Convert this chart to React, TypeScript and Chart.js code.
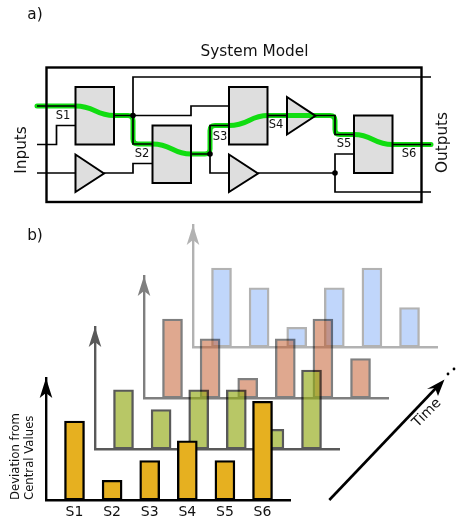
import React, { useEffect, useRef } from "react";
import { Chart, registerables } from "chart.js";

Chart.register(...registerables);

const categories = ["S1", "S2", "S3", "S4", "S5", "S6"];
const currentDeviation = [4, 1, 2, 3, 2, 5];
const earlierDeviation = [3, 2, 3, 3, 1, 4];
const olderDeviation = [4, 3, 1, 3, 4, 2];
const oldestDeviation = [4, 3, 1, 3, 4, 2];

const FONT = '"DejaVu Sans"';
const UNIT_MAX = 6.18;
const X_MIN = -0.758;
const X_MAX = 5.731;

type Pt = [number, number];

function poly(ctx: CanvasRenderingContext2D, pts: Pt[], close = false) {
  ctx.beginPath();
  pts.forEach((p, i) => (i ? ctx.lineTo(p[0], p[1]) : ctx.moveTo(p[0], p[1])));
  if (close) ctx.closePath();
}

function drawSchematic(ctx: CanvasRenderingContext2D) {
  ctx.save();
  ctx.lineJoin = "miter";
  ctx.strokeStyle = "#000";
  ctx.fillStyle = "#dedede";
  const blocks = [
    [75.5, 87, 38.5, 57.5],
    [152.5, 125.5, 38.5, 57.5],
    [229, 87, 38.5, 57.5],
    [354, 115.5, 38.5, 57.5],
  ];
  const tris: Pt[][] = [
    [[75.5, 154.5], [75.5, 192], [104, 173.5]],
    [[229, 154.5], [229, 192], [258, 173.5]],
    [[287, 97], [287, 134.5], [315.5, 115.8]],
  ];
  blocks.forEach((b) => {
    ctx.fillRect(b[0], b[1], b[2], b[3]);
  });
  tris.forEach((t) => {
    poly(ctx, t, true);
    ctx.fill();
  });
  // green path
  ctx.strokeStyle = "#11dd11";
  ctx.lineWidth = 5;
  ctx.lineCap = "round";
  ctx.lineJoin = "round";
  ctx.beginPath();
  ctx.moveTo(37, 106);
  ctx.lineTo(75.5, 106);
  ctx.bezierCurveTo(95, 106, 95, 115.5, 114, 115.5);
  ctx.lineTo(128, 115.5);
  ctx.quadraticCurveTo(133, 115.5, 133, 120.5);
  ctx.lineTo(133, 139);
  ctx.quadraticCurveTo(133, 144, 138, 144);
  ctx.lineTo(152.5, 144);
  ctx.bezierCurveTo(172, 144, 172, 154, 191, 154);
  ctx.lineTo(205, 154);
  ctx.quadraticCurveTo(210, 154, 210, 149);
  ctx.lineTo(210, 130.5);
  ctx.quadraticCurveTo(210, 125.5, 215, 125.5);
  ctx.lineTo(229, 125.5);
  ctx.bezierCurveTo(249, 125.5, 249, 115.5, 268, 115.5);
  ctx.lineTo(330, 115.5);
  ctx.quadraticCurveTo(335, 115.5, 335, 120.5);
  ctx.lineTo(335, 129.5);
  ctx.quadraticCurveTo(335, 134.5, 340, 134.5);
  ctx.lineTo(354, 134.5);
  ctx.bezierCurveTo(373, 134.5, 373, 144.5, 392.5, 144.5);
  ctx.lineTo(431, 144.5);
  ctx.stroke();
  // wires
  ctx.strokeStyle = "#000";
  ctx.lineWidth = 1.7;
  ctx.lineCap = "butt";
  ctx.lineJoin = "miter";
  const wires: Pt[][] = [
    [[37, 106], [75.5, 106]],
    [[37, 144.5], [56.5, 144.5], [56.5, 125.5], [75.5, 125.5]],
    [[37, 173], [75.5, 173]],
    [[104, 173], [133, 173], [133, 163.5], [152.5, 163.5]],
    [[114, 115.5], [191, 115.5], [191, 106], [229, 106]],
    [[133, 115.5], [133, 77], [431, 77]],
    [[133, 115.5], [133, 144], [152.5, 144]],
    [[191, 154], [210, 154], [210, 125.5], [229, 125.5]],
    [[210, 154], [210, 173], [229, 173]],
    [[258, 173], [335, 173]],
    [[335, 173], [335, 154], [354, 154]],
    [[335, 173], [335, 192], [431, 192]],
    [[268, 115.5], [287, 115.5]],
    [[315.5, 115.5], [335, 115.5], [335, 134.5], [354, 134.5]],
    [[392.5, 144.5], [431, 144.5]],
  ];
  wires.forEach((w) => {
    poly(ctx, w);
    ctx.stroke();
  });
  ctx.lineWidth = 2;
  blocks.forEach((b) => ctx.strokeRect(b[0], b[1], b[2], b[3]));
  tris.forEach((t) => {
    poly(ctx, t, true);
    ctx.stroke();
  });
  ctx.fillStyle = "#000";
  ([[133, 115.5], [210, 154], [335, 173]] as Pt[]).forEach((d) => {
    ctx.beginPath();
    ctx.arc(d[0], d[1], 2.8, 0, Math.PI * 2);
    ctx.fill();
  });
  // frame
  ctx.lineWidth = 2.4;
  ctx.strokeRect(46.5, 67.5, 375, 134.5);

  // text
  ctx.fillStyle = "#111";
  ctx.textBaseline = "middle";
  ctx.textAlign = "center";
  ctx.font = `11.5px ${FONT}`;
  ([["S1", 63, 116], ["S2", 142, 154], ["S3", 220, 137], ["S4", 276, 125], ["S5", 344, 144], ["S6", 409, 154]] as [string, number, number][]).forEach(
    ([t, x, y]) => ctx.fillText(t, x, y)
  );
  ctx.font = `15.3px ${FONT}`;
  ctx.fillText("System Model", 254.5, 52);
  ctx.fillText("a)", 35, 15);
  ctx.fillText("b)", 35, 236);
  const rot = (t: string, x: number, y: number, a: number) => {
    ctx.save();
    ctx.translate(x, y);
    ctx.rotate(a);
    ctx.fillText(t, 0, 0);
    ctx.restore();
  };
  rot("Inputs", 22, 150, -Math.PI / 2);
  rot("Outputs", 443.5, 142.5, -Math.PI / 2);
  ctx.font = `14px ${FONT}`;
  rot("Time", 427, 413, -Math.PI / 4);
  ctx.restore();
}

function drawTimeArrow(ctx: CanvasRenderingContext2D) {
  ctx.save();
  ctx.strokeStyle = "#000";
  ctx.fillStyle = "#000";
  ctx.lineWidth = 2.6;
  poly(ctx, [[329.3, 500], [436, 388]]);
  ctx.stroke();
  poly(ctx, [[444.5, 379.5], [438, 396], [435, 388], [427, 389]], true);
  ctx.fill();
  ctx.beginPath();
  ctx.arc(448, 374, 1.4, 0, Math.PI * 2);
  ctx.fill();
  ctx.beginPath();
  ctx.arc(454, 369, 1.4, 0, Math.PI * 2);
  ctx.fill();
  ctx.restore();
}

function Layer({ values, level, fill, opacity, top }: { values: number[]; level: number; fill: string; opacity: number; top?: boolean }) {
  const ref = useRef<HTMLCanvasElement>(null);
  useEffect(() => {
    const left = 46 + 49 * level;
    const baseline = 500 - 51 * level;
    const chart = new Chart(ref.current!, {
      type: "bar",
      data: {
        datasets: [
          {
            data: values.map((y, x) => ({ x, y })),
            backgroundColor: fill,
            borderColor: "#000",
            borderWidth: 2.4,
            borderSkipped: false,
            barThickness: 20,
          },
        ],
      },
      options: {
        responsive: false,
        animation: false,
        events: [],
        layout: {
          padding: top
            ? { left: 0, top: baseline - 122, right: 457 - (left + 244), bottom: 0 }
            : { left, top: baseline - 122, right: 457 - (left + 244), bottom: 520 - baseline },
        },
        plugins: { legend: { display: false }, tooltip: { enabled: false } },
        scales: {
          x: {
            type: "linear",
            min: X_MIN,
            max: X_MAX,
            offset: false,
            grid: { display: false, drawTicks: false },
            border: { display: true, color: "#000", width: 2.4 },
            afterBuildTicks: (s: any) => {
              s.ticks = categories.map((_, value) => ({ value }));
            },
            afterFit: top ? (s: any) => { s.height = 20; } : undefined,
            ticks: {
              display: !!top,
              autoSkip: false,
              maxRotation: 0,
              padding: 4,
              color: "#111",
              font: { family: FONT, size: 14 },
              callback: (v: any) => categories[v as number],
            },
          },
          y: {
            min: 0,
            max: UNIT_MAX,
            grid: { display: false, drawTicks: false },
            border: { display: true, color: "#000", width: 2.4 },
            afterFit: top ? (s: any) => { s.width = 46; } : undefined,
            ticks: { display: false },
            title: top
              ? {
                  display: true,
                  text: ["Deviation from", "Central Values"],
                  align: "start",
                  color: "#111",
                  font: { family: FONT, size: 11.7 },
                  padding: { top: 9, bottom: 0 },
                }
              : { display: false },
          },
        },
      },
      plugins: [
        {
          id: "decor",
          afterDraw(c: any) {
            const ctx = c.ctx;
            const x = c.chartArea.left;
            const y = c.chartArea.top;
            ctx.save();
            ctx.fillStyle = "#000";
            poly(ctx, [[x, y], [x + 6.3, y + 20], [x, y + 15], [x - 6.3, y + 20]], true);
            ctx.fill();
            ctx.restore();
            if (top) {
              drawSchematic(ctx);
              drawTimeArrow(ctx);
            }
          },
        },
      ],
    } as any);
    return () => chart.destroy();
  }, []);
  return (
    <canvas
      ref={ref}
      width={457}
      height={520}
      style={{ position: "absolute", left: 0, top: 0, width: 457, height: 520, opacity, display: "block" }}
    />
  );
}

export default function App() {
  return (
    <div style={{ position: "fixed", left: 0, top: 0, width: 457, height: 520, background: "#fff", overflow: "hidden" }}>
      <Layer values={oldestDeviation} level={3} fill="rgb(48,122,242)" opacity={0.3} />
      <Layer values={olderDeviation} level={2} fill="rgb(191,81,31)" opacity={0.5} />
      <Layer values={earlierDeviation} level={1} fill="rgb(146,170,20)" opacity={0.65} />
      <Layer values={currentDeviation} level={0} fill="#e6b020" opacity={1} top />
    </div>
  );
}
